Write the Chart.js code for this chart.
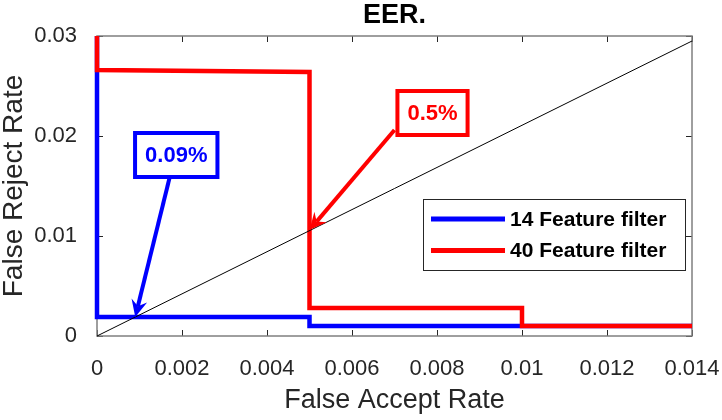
<!DOCTYPE html>
<html>
<head>
<meta charset="utf-8">
<script src="https://cdn.jsdelivr.net/npm/chart.js@4.4.0/dist/chart.umd.min.js"></script>
<style>
  html, body { margin: 0; padding: 0; background: #fff; }
  #wrap { width: 722px; height: 420px; }
</style>
</head>
<body>
<div id="wrap"><canvas id="eerChart" width="722" height="420"></canvas></div>
<script>
// ------------------------
// DATA
// ------------------------
const seriesLabels = ['14 Feature filter', '40 Feature filter'];
// step curves (False Accept Rate, False Reject Rate)
const far14 = [0, 0, 0.005, 0.005, 0.014];
const frr14 = [0.03, 0.0019, 0.0019, 0.001, 0.001];
const far40 = [0, 0, 0.005, 0.005, 0.01, 0.01, 0.014];
const frr40 = [0.03, 0.0266, 0.0264, 0.0028, 0.0028, 0.001, 0.001];
// equal error diagonal
const diagX = [0, 0.014];
const diagY = [0, 0.0295];
// EER markers
const eerText = ['0.09%', '0.5%'];
const eerX = [0.0009, 0.005];
const eerY = [0.0019, 0.0106];
// ticks
const xTicks = [0, 0.002, 0.004, 0.006, 0.008, 0.01, 0.012, 0.014];
const yTicks = [0, 0.01, 0.02, 0.03];

const FONT = '"Liberation Sans", Arial, sans-serif';
const toPts = (xs, ys) => xs.map((x, i) => ({ x: x, y: ys[i] }));
const fmt = v => String(Number(v.toFixed(4)));

// ------------------------
// FRAME / LEGEND / ANNOTATIONS
// ------------------------
function drawArrow(ctx, x0, y0, x1, y1, color){
    const ang = Math.atan2(y1 - y0, x1 - x0);
    const headLen = 17, headW = 8, notch = 11;
    const bx = x1 - notch * Math.cos(ang), by = y1 - notch * Math.sin(ang);
    ctx.save();
    ctx.strokeStyle = color;
    ctx.fillStyle = color;
    ctx.lineWidth = 4;
    ctx.beginPath();
    ctx.moveTo(x0, y0);
    ctx.lineTo(bx, by);
    ctx.stroke();
    const hx = x1 - headLen * Math.cos(ang), hy = y1 - headLen * Math.sin(ang);
    ctx.beginPath();
    ctx.moveTo(x1, y1);
    ctx.lineTo(hx + headW * Math.sin(ang), hy - headW * Math.cos(ang));
    ctx.lineTo(bx, by);
    ctx.lineTo(hx - headW * Math.sin(ang), hy + headW * Math.cos(ang));
    ctx.closePath();
    ctx.fill();
    ctx.restore();
}

function drawTextBox(ctx, text, cx, cy, color){
    ctx.save();
    ctx.font = 'bold 22px ' + FONT;
    const w = ctx.measureText(text).width + 20;
    const h = 44;
    ctx.fillStyle = '#fff';
    ctx.fillRect(cx - w / 2, cy - h / 2, w, h);
    ctx.strokeStyle = color;
    ctx.lineWidth = 4;
    ctx.strokeRect(cx - w / 2, cy - h / 2, w, h);
    ctx.fillStyle = color;
    ctx.textAlign = 'center';
    ctx.textBaseline = 'middle';
    ctx.fillText(text, cx, cy + 1);
    ctx.restore();
}

const framePlugin = {
    id: 'frame',
    beforeDatasetsDraw(chart){
        const ctx = chart.ctx;
        const a = chart.chartArea;
        const xs = chart.scales.x, ys = chart.scales.y;

        // inward ticks + box (under the curves, like MATLAB)
        ctx.save();
        ctx.strokeStyle = '#262626';
        ctx.lineWidth = 1;
        ctx.beginPath();
        xTicks.forEach(v => {
            const px = Math.round(xs.getPixelForValue(v)) + 0.5;
            ctx.moveTo(px, a.bottom); ctx.lineTo(px, a.bottom - 6);
            ctx.moveTo(px, a.top); ctx.lineTo(px, a.top + 6);
        });
        yTicks.forEach(v => {
            const py = Math.round(ys.getPixelForValue(v)) + 0.5;
            ctx.moveTo(a.left, py); ctx.lineTo(a.left + 6, py);
            ctx.moveTo(a.right, py); ctx.lineTo(a.right - 6, py);
        });
        ctx.stroke();
        ctx.strokeStyle = '#7f7f7f';
        ctx.lineWidth = 1.5;
        ctx.strokeRect(a.left, a.top, a.right - a.left, a.bottom - a.top);
        ctx.restore();
    },
    afterDraw(chart){
        const ctx = chart.ctx;
        const a = chart.chartArea;
        const xs = chart.scales.x, ys = chart.scales.y;

        // title
        ctx.save();
        ctx.font = 'bold 27px ' + FONT;
        ctx.fillStyle = '#000';
        ctx.textAlign = 'center';
        ctx.textBaseline = 'middle';
        ctx.fillText('EER.', (a.left + a.right) / 2, 16);
        ctx.restore();

        // legend box
        const lx = a.right - 269, ly = a.top + 163, lw = 262, lh = 71;
        ctx.save();
        ctx.fillStyle = '#fff';
        ctx.fillRect(lx, ly, lw, lh);
        ctx.strokeStyle = '#262626';
        ctx.lineWidth = 1;
        ctx.strokeRect(lx + 0.5, ly + 0.5, lw, lh);
        ctx.font = 'bold 21px ' + FONT;
        ctx.textBaseline = 'middle';
        const colors = ['#0000ff', '#ff0000'];
        seriesLabels.forEach((lab, i) => {
            const yy = ly + 20 + i * 31.5;
            ctx.strokeStyle = colors[i];
            ctx.lineWidth = 5;
            ctx.beginPath();
            ctx.moveTo(lx + 8, yy); ctx.lineTo(lx + 82, yy);
            ctx.stroke();
            ctx.fillStyle = '#000';
            ctx.fillText(lab, lx + 87, yy + 1);
        });
        ctx.restore();

        // EER annotations
        const boxOff = [[41, -162], [123, -117]]; // box centre relative to EER point (px)
        const tailOff = [[35, -142], [85, -100]];
        const annColors = ['#0000ff', '#ff0000'];
        eerText.forEach((t, i) => {
            const px = xs.getPixelForValue(eerX[i]);
            const py = ys.getPixelForValue(eerY[i]);
            drawArrow(ctx, px + tailOff[i][0], py + tailOff[i][1], px, py, annColors[i]);
            drawTextBox(ctx, t, px + boxOff[i][0], py + boxOff[i][1], annColors[i]);
        });
    }
};

// ------------------------
// CHART
// ------------------------
const canvas = document.getElementById('eerChart');
new Chart(canvas.getContext('2d'), {
    type: 'scatter',
    data: {
        datasets: [
            {
                label: 'diag',
                data: toPts(diagX, diagY),
                showLine: true,
                borderColor: '#000',
                borderWidth: 1,
                pointRadius: 0,
                clip: false,
                order: 0
            },
            {
                label: seriesLabels[1],
                data: toPts(far40, frr40),
                showLine: true,
                borderColor: '#ff0000',
                borderWidth: 4.5,
                pointRadius: 0,
                borderJoinStyle: 'miter',
                clip: false,
                order: 1
            },
            {
                label: seriesLabels[0],
                data: toPts(far14, frr14),
                showLine: true,
                borderColor: '#0000ff',
                borderWidth: 4.5,
                pointRadius: 0,
                borderJoinStyle: 'miter',
                clip: false,
                order: 2
            }
        ]
    },
    options: {
        responsive: false,
        animation: false,
        devicePixelRatio: 1,
        layout: { padding: { left: 0, right: 30, top: 36, bottom: 0 } },
        plugins: {
            legend: { display: false },
            tooltip: { enabled: false },
            title: { display: false }
        },
        scales: {
            x: {
                type: 'linear',
                min: 0, max: 0.014,
                grid: { display: false },
                border: { display: false },
                afterBuildTicks: s => { s.ticks = xTicks.map(v => ({ value: v })); },
                afterFit: s => { s.height = 84; s.paddingLeft = 0; s.paddingRight = 0; },
                ticks: {
                    padding: 12,
                    color: '#262626',
                    font: { family: FONT, size: 22 },
                    maxRotation: 0,
                    callback: v => fmt(v)
                },
                title: {
                    display: true,
                    text: 'False Accept Rate',
                    color: '#262626',
                    font: { family: FONT, size: 27, lineHeight: 1 },
                    padding: { top: 6, bottom: 6 }
                }
            },
            y: {
                type: 'linear',
                min: 0, max: 0.03,
                grid: { display: false },
                border: { display: false },
                afterBuildTicks: s => { s.ticks = yTicks.map(v => ({ value: v })); },
                afterFit: s => { s.width = 97; s.paddingTop = 0; s.paddingBottom = 0; },
                ticks: {
                    padding: 12,
                    color: '#262626',
                    font: { family: FONT, size: 22 },
                    callback: v => fmt(v)
                },
                title: {
                    display: true,
                    text: 'False Reject Rate',
                    color: '#262626',
                    font: { family: FONT, size: 28, lineHeight: 1 },
                    padding: { top: 0, bottom: 0 }
                }
            }
        }
    },
    plugins: [framePlugin]
});
</script>
</body>
</html>
